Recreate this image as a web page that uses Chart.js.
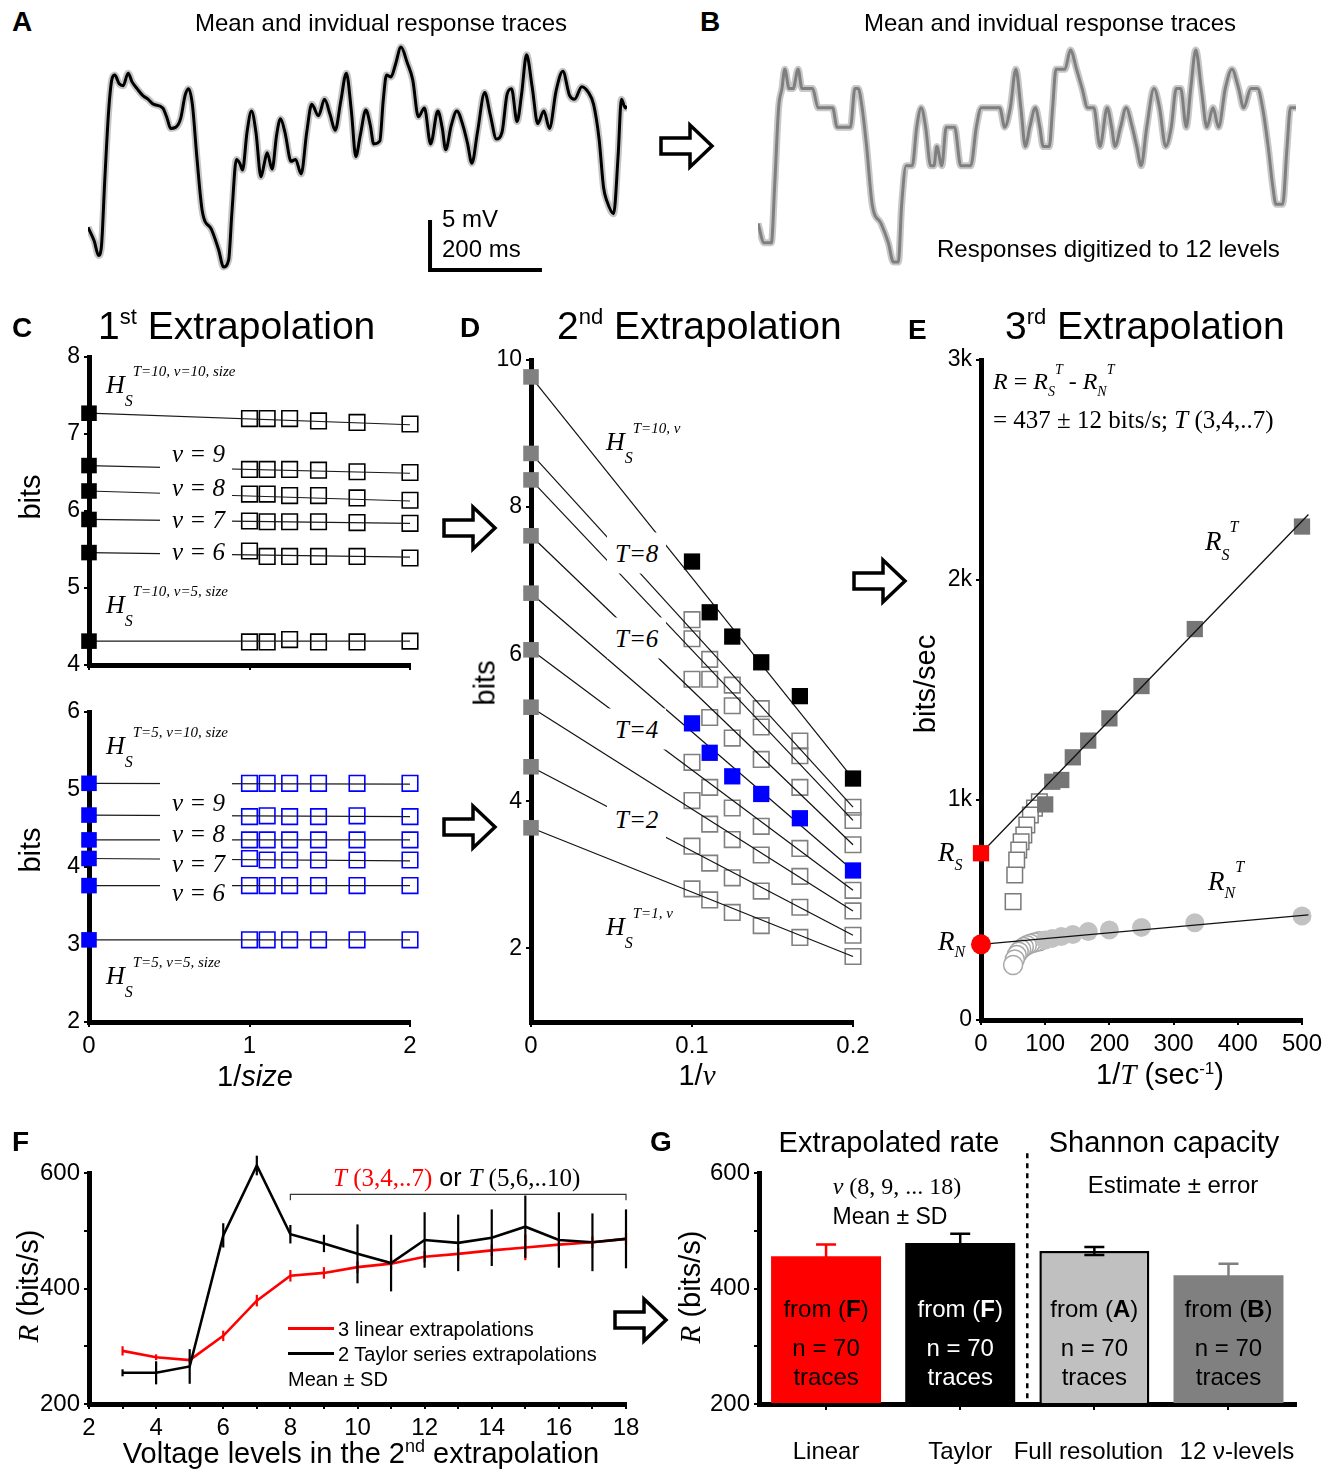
<!DOCTYPE html>
<html>
<head>
<meta charset="utf-8">
<title>Information rate extrapolation</title>
<script src="https://cdn.jsdelivr.net/npm/chart.js@4.4.1/dist/chart.umd.min.js"></script>
<style>
  html, body { margin: 0; padding: 0; background: #fff; }
  #fig { position: relative; width: 1339px; height: 1469px; overflow: hidden; font-family: "Liberation Sans", Arial, sans-serif; color: #000; }
  #fig canvas { position: absolute; }
  .t { position: absolute; white-space: nowrap; line-height: 1; }
  .mask { position: absolute; background: #fff; }
  svg { position: absolute; left: 0; top: 0; }
</style>
</head>
<body>
<div id="fig"></div>
<script>
const SANS = '"Liberation Sans", Arial, sans-serif';
const SERIF = '"Liberation Serif", "Times New Roman", serif';

// A / B: one response trace, time (ms) and voltage (mV); B is the same trace digitized (level 0..11)
const traceTime = [0,11,19,24,30,37,43,48,56,63, 72,79,88,98,108,117,134,142,148,157,
  166,174,180,187,195,205,221,234,243,252, 258,266,272,277,285,293,301,310,316,321,
  330,338,345,353,364,372,382,392,401,413, 424,434,443,453,463,472,480,488,498,506,
  512,523,529,535,543,551,561,572,582,592, 603,614,627,635,641,651,661,672,680,688,
  698,711,721,732,742,751,759,769,777,786, 796,806,817,827,839,851,863,872,885,897,
  906,916,924,930,942,950,956,963,966];
const traceMv = [4.3,2.9,1.4,2.3,9.1,16.3,19.6,20.0,19.1,18.9, 20.2,19.3,18.6,17.9,17.5,17.0,16.6,15.5,14.5,14.6,
  15.5,17.9,18.6,17.0,11.6,5.9,4.1,2.0,0.2,0.9, 5.9,11.3,10.9,10.2,14.1,16.3,14.1,9.5,10.9,12.0,
  10.3,13.8,15.5,14.1,11.1,11.3,9.8,14.1,17.0,15.8, 17.5,15.9,14.3,17.3,20.2,16.3,11.6,13.8,16.4,14.8,
  12.9,13.2,17.3,20.0,19.8,21.1,22.9,21.3,19.5,15.7, 16.6,12.9,16.3,14.5,12.3,14.8,16.3,14.8,13.0,10.9,
  14.1,18.2,15.9,13.4,14.1,18.0,18.6,15.2,18.0,22.1, 18.8,15.0,16.3,14.5,18.4,20.4,17.9,17.5,18.8,18.2,
  17.0,13.4,8.4,7.0,5.7,11.6,17.5,16.6,16.8];
const digitLevel = [2,1,1,1,4,8,9,10,9,9, 10,9,9,9,8,8,8,7,7,7,
  7,9,9,8,6,3,2,1,0,0, 3,5,5,5,7,8,7,5,5,6,
  5,7,7,7,5,5,5,7,8,8, 8,8,7,8,10,8,6,7,8,7,
  6,6,8,10,10,10,11,10,9,8, 8,6,8,7,6,7,8,7,6,5,
  7,9,8,6,7,9,9,7,9,11, 9,7,8,7,9,10,9,8,9,9,
  8,6,4,3,3,6,8,8,8];
const scaleBarT = [613, 613, 810];
const scaleBarMv = [4.85, -0.1, -0.1];

// C: 1st extrapolation, entropy (bits) vs 1/size, one row per nu = 10, 9, 8, 7, 6, 5
const invSize = [1, 1.11, 1.25, 1.43, 1.67, 2];
const cTopAt0 = [7.27, 6.59, 6.26, 5.89, 5.46, 4.31];
const cTopAt2 = [7.12, 6.49, 6.13, 5.84, 5.40, 4.31];
const cTopOpen = [
  [7.20, 7.20, 7.20, 7.17, 7.15, 7.13],
  [6.54, 6.54, 6.54, 6.53, 6.51, 6.50],
  [6.22, 6.22, 6.20, 6.20, 6.17, 6.14],
  [5.87, 5.86, 5.86, 5.86, 5.85, 5.84],
  [5.48, 5.41, 5.41, 5.41, 5.41, 5.39],
  [4.30, 4.30, 4.33, 4.30, 4.30, 4.31]
];
const cBotAt0 = [5.08, 4.67, 4.35, 4.11, 3.76, 3.06];
const cBotAt2 = [5.07, 4.65, 4.35, 4.08, 3.76, 3.06];
const cBotOpen = [
  [5.08, 5.08, 5.08, 5.08, 5.08, 5.08],
  [4.65, 4.66, 4.65, 4.65, 4.66, 4.65],
  [4.35, 4.35, 4.35, 4.35, 4.35, 4.35],
  [4.11, 4.09, 4.09, 4.09, 4.09, 4.09],
  [3.76, 3.76, 3.76, 3.76, 3.76, 3.76],
  [3.06, 3.06, 3.06, 3.06, 3.06, 3.06]
];

// D: 2nd extrapolation, bits vs 1/nu, one row per T (top row T=10, fifth row T=5)
const invNu = [0.1, 0.111, 0.125, 0.143, 0.167, 0.2];
const dAt0 = [9.77, 8.73, 8.37, 7.61, 6.83, 6.06, 5.28, 4.47, 3.64];
const dRows = [
  [7.26, 6.57, 6.24, 5.89, 5.43, 4.31],
  [6.47, 5.93, 5.58, 5.26, 4.82, 3.92],
  [6.21, 5.66, 5.30, 5.01, 4.62, 3.74],
  [5.66, 5.14, 4.86, 4.57, 4.19, 3.41],
  [5.06, 4.66, 4.34, 4.10, 3.77, 3.06],
  [4.53, 4.19, 3.91, 3.66, 3.36, 2.79],
  [4.01, 3.69, 3.48, 3.27, 2.98, 2.51],
  [3.39, 3.16, 2.96, 2.78, 2.56, 2.18],
  [2.81, 2.66, 2.49, 2.31, 2.15, 1.89]
];

// E: 3rd extrapolation, bits/sec vs 1/T
const eInvT = [100, 111, 125, 143, 167, 200, 250, 333, 500];
const eRS = [980, 1083, 1091, 1194, 1270, 1371, 1518, 1777, 2243];
const eRN = [364, 371, 379, 389, 402, 409, 421, 442, 473];
const eInvTLong = [90.9, 83.3, 76.9, 71.4, 66.7, 62.5, 58.8, 55.6, 52.6, 50];
const eRSLong = [992, 963, 932, 886, 841, 810, 773, 727, 659, 538];
const eRNLong = [358, 352, 347, 340, 332, 322, 310, 295, 275, 250];
const eFitX = [0, 510];
const eRSFit = [758, 2298];
const eRNFit = [344, 478];

// F: rate vs number of voltage levels
const fLevels = [3,4,5,6,7,8,9,10,11,12,13,14,15,16,17,18];
const fLinear = [292, 281, 276, 318, 379, 422, 427, 437, 443, 455, 460, 466, 471, 476, 480, 486];
const fLinearSD = [8, 5, 4, 9, 10, 10, 10, 10, 10, 10, 10, 10, 22, 10, 10, 10];
const fTaylor = [254, 254, 265, 492, 613, 494, 478, 460, 444, 484, 479, 488, 507, 484, 480, 486];
const fTaylorSD = [6, 20, 30, 21, 17, 16, 15, 51, 49, 48, 49, 49, 54, 48, 50, 51];
const bracketX = [8, 8, 18, 18];
const bracketY = [553, 563, 563, 553];

// G: summary bars
const gCats = ['Linear', 'Taylor', 'Full resolution', '12 \u03bd-levels'];
const gRate = [456, 479, 465, 423];
const gErr = [20, 16, 7, 20];
const gSource = ['F', 'F', 'A', 'B'];
const gSepAt = 1.5;
const gSepTop = 634;

const FIG = document.getElementById('fig');
Chart.defaults.font.family = SANS;
Chart.defaults.color = '#000';

const pts = (xs, ys) => xs.map((x, i) => ({x: x, y: ys[i]}));
function marks(xs, ys, style) {
  return Object.assign({data: pts(xs, ys), showLine: false, pointStyle: 'rect', pointRadius: 11, borderWidth: 0, clip: false, order: 1}, style);
}
function line(xs, ys, style) {
  return Object.assign({data: pts(xs, ys), showLine: true, pointRadius: 0, borderColor: '#000', borderWidth: 1.2, tension: 0, clip: false, order: 0}, style);
}
function baseOpts(scales) {
  return {responsive: false, animation: false, events: [], devicePixelRatio: 1,
    plugins: {legend: {display: false}, tooltip: {enabled: false}}, scales: scales};
}
function lin(min, max, ticks, o) {
  o = o || {};
  return {
    type: 'linear', min: min, max: max,
    afterBuildTicks: s => { s.ticks = ticks.map(v => ({value: v})); },
    grid: {display: true, drawOnChartArea: false, drawTicks: true, tickLength: 5, color: '#000', lineWidth: 2},
    border: {display: true, color: '#000', width: 5},
    ticks: {display: o.labels !== false, autoSkip: false, maxRotation: 0, padding: o.pad || 4, color: '#000',
      font: {family: SANS, size: o.size || 23}, callback: o.fmt || (v => String(v))}
  };
}
function addCanvas(l, t, w, h) {
  const c = document.createElement('canvas');
  c.width = w; c.height = h;
  c.style.left = l + 'px'; c.style.top = t + 'px';
  c.style.width = w + 'px'; c.style.height = h + 'px';
  FIG.appendChild(c);
  return c;
}
// place a chart so that its plot area lands on rect
function plotChart(rect, cfg, dims) {
  const d = Object.assign({yw: 60, xh: 50, pt: 20, pr: 30}, dims);
  const w = d.yw + rect.r - rect.l + d.pr, h = d.pt + rect.b - rect.t + d.xh;
  const c = addCanvas(rect.l - d.yw, rect.t - d.pt, w, h);
  cfg.options.layout = {padding: {left: 0, top: d.pt, right: d.pr, bottom: 0}};
  cfg.options.scales.x.afterFit = s => { s.height = d.xh; };
  cfg.options.scales.y.afterFit = s => { s.width = d.yw; };
  return new Chart(c, cfg);
}
function bareChart(rect, datasets, xr, yr) {
  const c = addCanvas(rect.l, rect.t, rect.r - rect.l, rect.b - rect.t);
  const o = baseOpts({
    x: {type: 'linear', display: false, min: xr[0], max: xr[1]},
    y: {type: 'linear', display: false, min: yr[0], max: yr[1]}
  });
  o.layout = {padding: 0};
  return new Chart(c, {type: 'scatter', data: {datasets: datasets}, options: o});
}

const errorBars = {
  id: 'errorBars',
  afterDatasetsDraw(chart) {
    const ctx = chart.ctx, y = chart.scales.y;
    for (let i = chart.data.datasets.length - 1; i >= 0; i--) {
      const ds = chart.data.datasets[i];
      if (!ds.errors) continue;
      const meta = chart.getDatasetMeta(i);
      ctx.save();
      ctx.lineWidth = ds.errorWidth || 2;
      meta.data.forEach((el, j) => {
        const raw = ds.data[j];
        const v = typeof raw === 'object' ? raw.y : raw;
        const e = ds.errors[j];
        const top = y.getPixelForValue(v + e), bot = y.getPixelForValue(v - e);
        ctx.strokeStyle = ds.errorColors ? ds.errorColors[j] : ds.borderColor;
        ctx.beginPath();
        ctx.moveTo(el.x, top); ctx.lineTo(el.x, bot);
        if (ds.errorCap) {
          ctx.moveTo(el.x - ds.errorCap, top); ctx.lineTo(el.x + ds.errorCap, top);
          ctx.moveTo(el.x - ds.errorCap, bot); ctx.lineTo(el.x + ds.errorCap, bot);
        }
        ctx.stroke();
      });
      ctx.restore();
    }
  }
};
const separator = {
  id: 'separator',
  afterDatasetsDraw(chart) {
    const ctx = chart.ctx, x = chart.scales.x, y = chart.scales.y;
    const px = x.getPixelForValue(gSepAt);
    ctx.save();
    ctx.setLineDash([5, 5]);
    ctx.lineWidth = 2.5;
    ctx.strokeStyle = '#000';
    ctx.beginPath();
    ctx.moveTo(px, y.getPixelForValue(gSepTop));
    ctx.lineTo(px, y.getPixelForValue(200));
    ctx.stroke();
    ctx.restore();
  }
};

// ---------- A and B traces
const smooth = {cubicInterpolationMode: 'monotone', borderJoinStyle: 'round'};
bareChart({l: 88, t: 30, r: 627, b: 280}, [
  line(scaleBarT, scaleBarMv, {borderColor: '#000', borderWidth: 4, borderCapStyle: 'square', borderJoinStyle: 'miter'}),
  line(traceTime, traceMv, Object.assign({borderColor: '#000', borderWidth: 3, order: 1}, smooth)),
  line(traceTime, traceMv, Object.assign({borderColor: '#c6c6c6', borderWidth: 7, order: 2}, smooth))
], [0, 966], [-1.14, 24.65]);

bareChart({l: 758, t: 30, r: 1296, b: 280}, [
  line(traceTime, digitLevel, Object.assign({borderColor: '#7f7f7f', borderWidth: 3, order: 1}, smooth)),
  line(traceTime, digitLevel, Object.assign({borderColor: '#c8c8c8', borderWidth: 7, order: 2}, smooth))
], [0, 966], [-0.93, 12.04]);

// ---------- C
function cChart(rect, at0, at2, open, color, yTicks, showX) {
  const ds = [];
  at0.forEach((h, i) => {
    ds.push(line([0, 2], [h, at2[i]], {borderColor: '#1a1a1a', borderWidth: 1.2, order: 1}));
    ds.push(marks([0], [h], {backgroundColor: color, order: 0}));
    ds.push(marks(invSize, open[i], {backgroundColor: 'rgba(0,0,0,0)', borderColor: color, borderWidth: 1.6, order: 2}));
  });
  return plotChart(rect, {type: 'scatter', data: {datasets: ds}, options: baseOpts({
    x: lin(0, 2, [0, 1, 2], {labels: showX, size: 24, pad: 5}),
    y: lin(yTicks[0], yTicks[yTicks.length - 1], yTicks, {size: 23})
  })});
}
cChart({l: 89, t: 357, r: 410, b: 665}, cTopAt0, cTopAt2, cTopOpen, '#000', [4, 5, 6, 7, 8], false);
cChart({l: 89, t: 712, r: 410, b: 1022}, cBotAt0, cBotAt2, cBotOpen, '#0000ff', [2, 3, 4, 5, 6], true);

// ---------- D
(function () {
  const ds = [];
  dAt0.forEach((h, i) => {
    ds.push(line([0, 0.2], [h, dRows[i][5]], {borderColor: '#111', borderWidth: 1.2, order: 1}));
    let st = {backgroundColor: 'rgba(0,0,0,0)', borderColor: '#808080', borderWidth: 1.6, order: 2};
    if (i === 0) st = {backgroundColor: '#000', order: 0, pointRadius: 11.5};
    if (i === 4) st = {backgroundColor: '#0000ff', order: 0, pointRadius: 11.5};
    ds.push(marks(invNu, dRows[i], st));
  });
  ds.push(marks(dAt0.map(() => 0), dAt0, {backgroundColor: '#808080', order: 0}));
  plotChart({l: 531, t: 360, r: 853, b: 1022}, {type: 'scatter', data: {datasets: ds}, options: baseOpts({
    x: lin(0, 0.2, [0, 0.1, 0.2], {size: 24, pad: 5}),
    y: lin(1, 10, [2, 4, 6, 8, 10], {size: 23})
  })});
})();

// ---------- E
plotChart({l: 981, t: 360, r: 1302, b: 1020}, {type: 'scatter', data: {datasets: [
  marks([0], [eRSFit[0]], {backgroundColor: '#ff0000', pointRadius: 11.5, order: 0}),
  marks([0], [eRNFit[0]], {pointStyle: 'circle', backgroundColor: '#ff0000', pointRadius: 10, order: 0}),
  line(eFitX, eRSFit, {borderColor: '#111', borderWidth: 1.3, order: 1}),
  line(eFitX, eRNFit, {borderColor: '#111', borderWidth: 1.3, order: 1}),
  marks(eInvT, eRS, {backgroundColor: '#767676', pointRadius: 11.5, order: 2}),
  marks(eInvT, eRN, {pointStyle: 'circle', backgroundColor: '#c2c2c2', pointRadius: 9.5, order: 2}),
  marks(eInvTLong, eRSLong, {backgroundColor: '#fff', borderColor: '#7a7a7a', borderWidth: 1.5, pointRadius: 11, order: 3}),
  marks(eInvTLong, eRNLong, {pointStyle: 'circle', backgroundColor: '#fff', borderColor: '#a8a8a8', borderWidth: 1.5, pointRadius: 9.5, order: 3})
]}, options: baseOpts({
  x: lin(0, 500, [0, 100, 200, 300, 400, 500], {size: 24, pad: 5}),
  y: lin(0, 3000, [0, 1000, 2000, 3000], {size: 23, fmt: v => (v === 0 ? '0' : (v / 1000) + 'k')})
})});

// ---------- F
plotChart({l: 89, t: 1173, r: 626, b: 1404}, {type: 'scatter', data: {datasets: [
  line(fLevels, fTaylor, {borderColor: '#000', borderWidth: 2.6, errors: fTaylorSD, errorWidth: 2.2, order: 0}),
  line(fLevels, fLinear, {borderColor: '#ff0000', borderWidth: 2.6, errors: fLinearSD, errorWidth: 2.2, order: 1}),
  line(bracketX, bracketY, {borderColor: '#333', borderWidth: 1.2, order: 2})
]}, options: baseOpts({
  x: lin(2, 18, [2,3,4,5,6,7,8,9,10,11,12,13,14,15,16,17,18], {size: 24, pad: 5, fmt: v => (v % 2 === 0 ? String(v) : '')}),
  y: lin(200, 600, [200, 300, 400, 500, 600], {size: 24, fmt: v => (v % 200 === 0 ? String(v) : '')})
}), plugins: [errorBars]});

// ---------- G
// the two right-hand labels sit slightly apart from their ticks in the original
const gLabel = (v, i) => (i === 2 ? gCats[i] + '\u2002' : (i === 3 ? '\u2002\u2009' + gCats[i] : gCats[i]));
const gChart = plotChart({l: 759, t: 1173, r: 1296, b: 1404}, {type: 'bar', data: {labels: gCats, datasets: [{
  data: gRate, base: 200,
  backgroundColor: ['#ff0000', '#000000', '#c0c0c0', '#808080'],
  borderColor: '#000', borderWidth: [0, 0, 2.5, 0], borderSkipped: 'bottom',
  barPercentage: 0.82, categoryPercentage: 1,
  errors: gErr, errorColors: ['#ff0000', '#000000', '#000000', '#808080'], errorCap: 10, errorWidth: 2.5
}]}, options: baseOpts({
  x: {type: 'category', offset: true,
    grid: {display: true, offset: false, drawOnChartArea: false, drawTicks: true, tickLength: 6, color: '#000', lineWidth: 2},
    border: {display: true, color: '#000', width: 5},
    ticks: {padding: 28, color: '#000', autoSkip: false, maxRotation: 0, font: {family: SANS, size: 24}, callback: gLabel}},
  y: lin(200, 600, [200, 300, 400, 500, 600], {size: 24, fmt: v => (v % 200 === 0 ? String(v) : '')})
}), plugins: [errorBars, separator]}, {xh: 70, pt: 30});

// ---------- masks that break the fitted lines behind the labels in C
function mask(l, t, w, h) {
  const d = document.createElement('div');
  d.className = 'mask';
  Object.assign(d.style, {left: l + 'px', top: t + 'px', width: w + 'px', height: h + 'px'});
  FIG.appendChild(d);
}
mask(160, 424, 72, 136);
mask(160, 774, 72, 122);

// ---------- text
function put(html, x, y, opt) {
  opt = opt || {};
  const d = document.createElement('div');
  d.className = 't';
  d.innerHTML = html;
  d.style.left = x + 'px';
  d.style.top = y + 'px';
  d.style.fontSize = (opt.size || 24) + 'px';
  if (opt.serif) d.style.fontFamily = SERIF;
  if (opt.italic) d.style.fontStyle = 'italic';
  if (opt.bold) d.style.fontWeight = 'bold';
  if (opt.color) d.style.color = opt.color;
  if (opt.bg) { d.style.background = opt.bg; d.style.padding = opt.pad || '0'; }
  const tx = opt.align === 'c' ? '-50%' : (opt.align === 'r' ? '-100%' : '0');
  d.style.transform = 'translate(' + tx + ',-50%)' + (opt.rot ? ' rotate(-90deg)' : '');
  FIG.appendChild(d);
  return d;
}
const sb = (t, dy, fs) => '<span style="font-size:' + fs + 'px;position:relative;top:' + dy + 'px;font-style:italic">' + t + '</span>';
const up = (t, dy, fs) => '<span style="font-size:' + fs + 'px;position:relative;top:' + dy + 'px">' + t + '</span>';
const it = t => '<i style="font-family:' + SERIF.replace(/"/g, "'") + '">' + t + '</i>';

// panel letters
[['A', 12, 22], ['B', 700, 22], ['C', 12, 328], ['D', 460, 328], ['E', 908, 330], ['F', 12, 1142], ['G', 650, 1142]]
  .forEach(p => put(p[0], p[1], p[2], {bold: true, size: 28}));

// A / B
put('Mean and invidual response traces', 381, 23, {align: 'c', size: 24});
put('Mean and invidual response traces', 1050, 23, {align: 'c', size: 24});
put('5 mV', 442, 219, {size: 24});
put('200 ms', 442, 249, {size: 24});
put('Responses digitized to 12 levels', 937, 249, {size: 24});

// section titles
put('1' + up('st', -15, 22) + ' Extrapolation', 98, 325, {size: 39});
put('2' + up('nd', -15, 22) + ' Extrapolation', 557, 325, {size: 39});
put('3' + up('rd', -15, 22) + ' Extrapolation', 1005, 325, {size: 39});

// axis titles
put('bits', 30, 497, {align: 'c', rot: true, size: 29});
put('bits', 30, 850, {align: 'c', rot: true, size: 29});
put('1/<i>size</i>', 255, 1076, {align: 'c', size: 29});
put('bits', 485, 683, {align: 'c', rot: true, size: 29});
put('1/' + it('\u03bd'), 697, 1075, {align: 'c', size: 29});
put('bits/sec', 925, 684, {align: 'c', rot: true, size: 29});
put('1/' + it('T') + ' (sec' + up('-1', -10, 17) + ')', 1160, 1074, {align: 'c', size: 29});
put(it('R') + ' (bits/s)', 28, 1286, {align: 'c', rot: true, size: 29});
put('Voltage levels in the 2' + up('nd', -11, 18) + ' extrapolation', 361, 1453, {align: 'c', size: 29});
put(it('R') + ' (bits/s)', 690, 1287, {align: 'c', rot: true, size: 29});

// C labels
function hs(x, y, sup, main, sub) {
  put((main || 'H') + sb(sub || 'S', 12.7, 16) + sb(sup, -16.6, 15), x, y, {serif: true, italic: true, size: 26});
}
hs(106, 385, 'T=10, \u03bd=10, size');
hs(106, 605, 'T=10, \u03bd=5, size');
hs(106, 746, 'T=5, \u03bd=10, size');
hs(106, 976, 'T=5, \u03bd=5, size');
[[9, 453], [8, 487], [7, 519], [6, 551], [9, 802], [8, 833], [7, 863], [6, 892]]
  .forEach(p => put('\u03bd = ' + p[0], 172, p[1], {serif: true, italic: true, size: 25}));

// D labels
hs(606, 442, 'T=10, \u03bd');
hs(606, 927, 'T=1, \u03bd');
[['8', 553], ['6', 638], ['4', 729], ['2', 819]]
  .forEach(p => put('T=' + p[0], 607, p[1], {serif: true, italic: true, size: 25, bg: '#fff', pad: '8px 8px'}));

// E labels
put('<i>R</i> = <i>R</i>' + sb('S', 7.4, 14) + sb('T', -15.3, 14) + ' - <i>R</i>' + sb('N', 7.4, 14) + sb('T', -15.3, 14), 993, 381, {serif: true, size: 24});
put('= 437 \u00b1 12 bits/s; <i>T</i> (3,4,..7)', 993, 419, {serif: true, size: 25});
put('R' + sb('S', 10.4, 16) + sb('T', -17.6, 16), 1205, 541, {serif: true, italic: true, size: 27});
put('R' + sb('N', 8.4, 16) + sb('T', -17.6, 16), 1208, 881, {serif: true, italic: true, size: 27});
put('R' + sb('S', 9.4, 16), 938, 852, {serif: true, italic: true, size: 27});
put('R' + sb('N', 7.4, 16), 938, 941, {serif: true, italic: true, size: 27});

// F legend and bracket label
function bar(l, t, w, h, c) {
  const d = document.createElement('div');
  Object.assign(d.style, {position: 'absolute', left: l + 'px', top: t + 'px', width: w + 'px', height: h + 'px', background: c});
  FIG.appendChild(d);
}
bar(288, 1327, 46, 3, '#ff0000');
bar(288, 1352, 46, 3, '#000');
put('3 linear extrapolations', 338, 1329, {size: 20});
put('2 Taylor series extrapolations', 338, 1354, {size: 20});
put('Mean \u00b1 SD', 288, 1379, {size: 20});
put('<span style="color:#ff0000"><i>T</i> (3,4,..7)</span><span style="font-family:Liberation Sans,Arial,sans-serif"> or </span><i>T</i> (5,6,..10)', 333, 1177, {serif: true, size: 25});

// G headers and in-bar text
put('Extrapolated rate', 889, 1142, {align: 'c', size: 29});
put('Shannon capacity', 1164, 1142, {align: 'c', size: 29});
put('<i>\u03bd</i> (8, 9, ... 18)', 897, 1186, {align: 'c', serif: true, size: 24});
put('Mean \u00b1 SD', 890, 1216, {align: 'c', size: 23});
put('Estimate \u00b1 error', 1173, 1185, {align: 'c', size: 24});
const gLeft = parseFloat(gChart.canvas.style.left);
gSource.forEach((s, i) => {
  const cx = gLeft + gChart.scales.x.getPixelForValue(i);
  const color = i === 1 ? '#fff' : '#000';
  put('from (<b>' + s + '</b>)', cx, 1309, {align: 'c', size: 24, color: color});
  put('n = 70', cx, 1348, {align: 'c', size: 24, color: color});
  put('traces', cx, 1377, {align: 'c', size: 24, color: color});
});

// open arrows between panels
(function () {
  const at = [[686, 146], [469, 528], [469, 827], [879, 581], [640, 1320]];
  const shape = [[-25, -8], [4, -8], [4, -21], [26, 0], [4, 21], [4, 8], [-25, 8]];
  let s = '<svg width="1339" height="1469" xmlns="http://www.w3.org/2000/svg">';
  at.forEach(c => {
    const p = shape.map(q => (c[0] + q[0]) + ',' + (c[1] + q[1])).join(' ');
    s += '<polygon points="' + p + '" fill="#fff" stroke="#000" stroke-width="3.5" stroke-linejoin="miter"/>';
  });
  FIG.insertAdjacentHTML('beforeend', s + '</svg>');
})();
</script>
</body>
</html>
